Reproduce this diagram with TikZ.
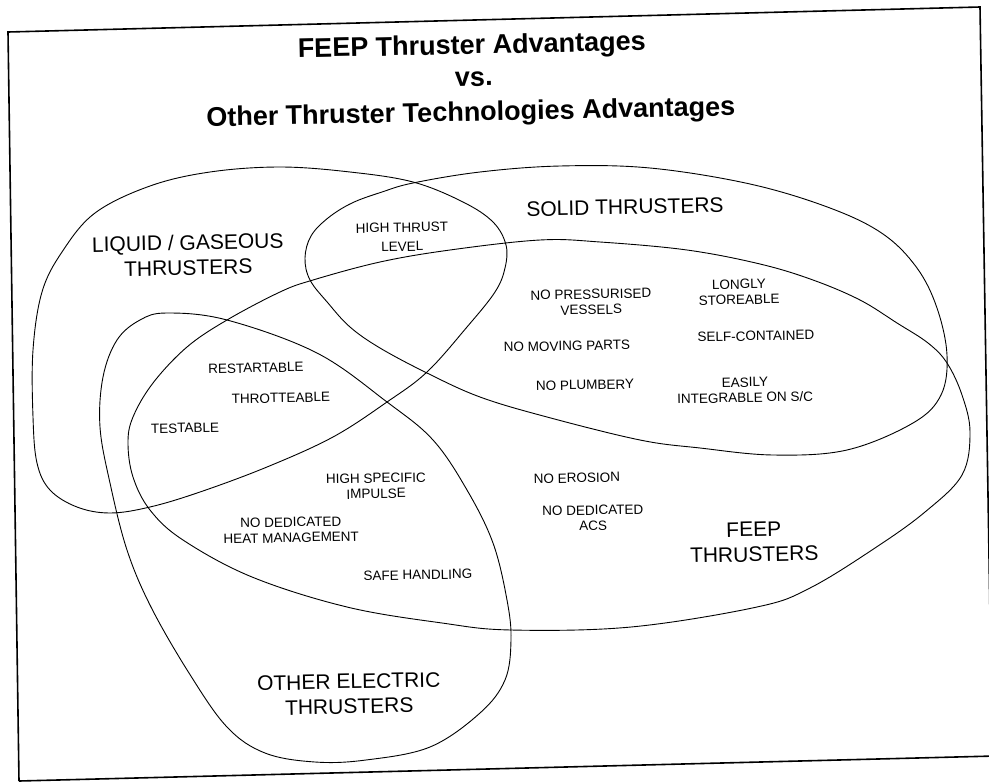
\documentclass[tikz,border=0pt]{standalone}
\usepackage{fontspec}
\setmainfont{Liberation Sans}
\tikzset{
  frameline/.style={line width=1.6pt},
  setline/.style={line width=0.9pt},
  ttl/.style={font=\fontsize{27}{30}\selectfont\bfseries,anchor=base,rotate=1.2,inner sep=1pt},
  setname/.style={font=\fontsize{21}{25}\selectfont,align=center,rotate=1.2},
  item/.style={font=\fontsize{13.5}{15.5}\selectfont,align=center,rotate=1.2}
}
\begin{document}
\begin{tikzpicture}[x=1pt,y=-1pt]
\useasboundingbox (0,0) rectangle (989,782);
\clip (0,0) rectangle (989,782);
\fill[white] (0,0) rectangle (989,782);
% scanned page frame
\draw[frameline] (19,781)--(8,32)--(980,7)--(993,800);
\draw[frameline] (19,781)--(995,756);
% title
\node[ttl] (title1) at (472,54) {FEEP Thruster Advantages};
\node[ttl] (title2) at (474,86) {vs.};
\node[ttl] (title3) at (471,121) {Other Thruster Technologies Advantages};
% liquid / gaseous
\draw[setline] plot[smooth cycle,tension=.6] coordinates {(280,167) (350,172) (413,182) (463,202) (493,222) (506,245) (505,268) (495,292) (467,327) (427,372) (387,402) (333,437) (267,467) (200,492) (150,507) (110,513) (77,507) (50,490) (37,463) (33,417) (33,350) (42,292) (62,252) (95,213) (150,186) (210,172)};
% solid
\draw[setline] plot[smooth cycle,tension=.6] coordinates {(413,183) (480,172) (560,166) (650,168) (750,184) (830,208) (883,234) (917,268) (937,308) (947,355) (941,395) (913,423) (847,450) (773,455) (700,448) (640,440) (547,417) (480,397) (427,373) (380,348) (350,327) (328,303) (310,280) (305,258) (311,236) (328,218) (352,203) (382,192)};
% feep
\draw[setline] plot[smooth cycle,tension=.6] coordinates {(540,240) (600,242) (687,250) (760,264) (813,280) (860,300) (897,323) (928,343) (947,363) (962,395) (970,432) (962,475) (925,512) (875,548) (810,588) (757,607) (631,627) (511,630) (442,623) (347,607) (252,577) (183,540) (150,510) (133,477) (128,443) (133,417) (153,383) (187,347) (227,320) (280,292) (313,280) (380,262) (450,250)};
% other electric
\draw[setline] plot[smooth cycle,tension=.6] coordinates {(167,313) (227,320) (317,353) (387,402) (433,440) (467,490) (493,543) (507,600) (511,640) (505,680) (480,713) (430,747) (366,760) (315,762) (265,753) (227,727) (189,673) (151,607) (127,550) (110,483) (100,427) (103,377) (117,340) (140,320)};
% set names
\node[setname] (liquid) at (188,255) {LIQUID / GASEOUS\\THRUSTERS};
\node[setname] (solid) at (625,207) {SOLID THRUSTERS};
\node[setname] (feep) at (754,542) {FEEP\\THRUSTERS};
\node[setname] (other) at (349,694) {OTHER ELECTRIC\\THRUSTERS};
% advantages
\node[item,font=\fontsize{13.5}{19}\selectfont] (thrust) at (402,237) {HIGH THRUST\\LEVEL};
\foreach \n/\x/\y/\t in {restart/256/368/RESTARTABLE, throttle/281/398/THROTTEABLE, testable/185/428/TESTABLE,
  impulse/376/486/{HIGH SPECIFIC\\IMPULSE}, heat/291/530/{NO DEDICATED\\HEAT MANAGEMENT}, safe/418/575/SAFE HANDLING,
  vessels/591/302/{NO PRESSURISED\\VESSELS}, moving/567/346/NO MOVING PARTS, plumb/585/385/NO PLUMBERY,
  store/739/292/{LONGLY\\STOREABLE}, selfcont/756/336/SELF-CONTAINED, integr/745/390/{EASILY\\INTEGRABLE ON S/C},
  erosion/577/478/NO EROSION, acs/593/518/{NO DEDICATED\\ACS}}
  {\node[item] (\n) at (\x,\y) {\t};}
\end{tikzpicture}
\end{document}
